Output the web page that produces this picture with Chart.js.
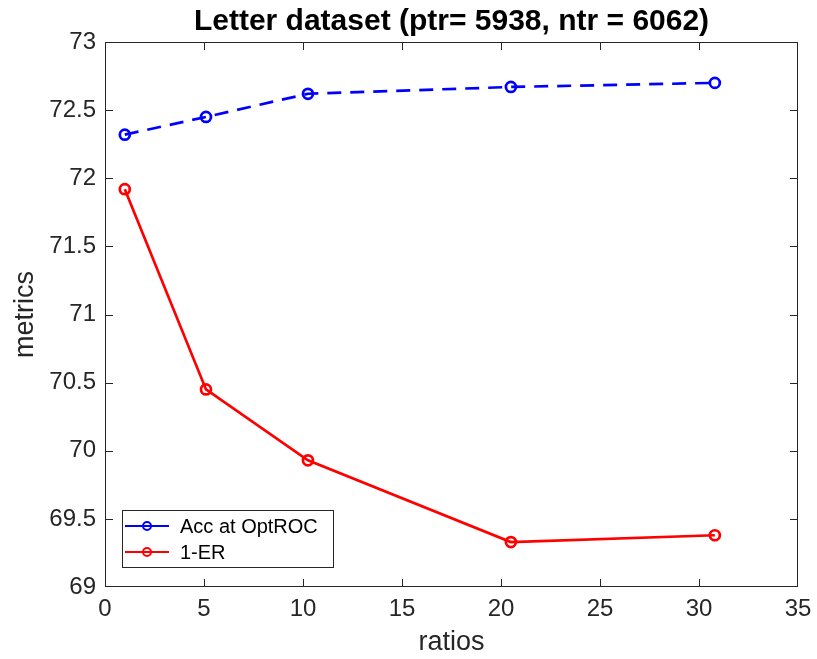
<!DOCTYPE html>
<html>
<head>
<meta charset="utf-8">
<script src="https://cdn.jsdelivr.net/npm/chart.js@4.4.1/dist/chart.umd.min.js"></script>
<style>
  html, body { margin: 0; padding: 0; background: #fff; }
  #wrap { width: 817px; height: 659px; }
</style>
</head>
<body>
<div id="wrap"><canvas id="chart" width="817" height="659"></canvas></div>
<script>
// values
const ratios = [1, 5.1, 10.25, 20.5, 30.8];
const accOptRoc = [72.32, 72.45, 72.62, 72.67, 72.70];
const oneMinusEr = [71.92, 70.45, 69.93, 69.33, 69.38];
const seriesNames = ['Acc at OptROC', '1-ER'];

const axisColor = '#262626';
const fontFamily = '"Liberation Sans", Arial, Helvetica, sans-serif';

// matlab style box, inner ticks and a legend in the lower left corner
const matlabAxes = {
    id: 'matlabAxes',
    afterDraw(chart) {
        const ctx = chart.ctx;
        const a = chart.chartArea;
        const xs = chart.scales.x, ys = chart.scales.y;
        ctx.save();
        ctx.strokeStyle = axisColor;
        ctx.lineWidth = 1;
        ctx.strokeRect(a.left + 0.5, a.top + 0.5, a.right - a.left - 1, a.bottom - a.top - 1);
        const t = 8;
        ctx.beginPath();
        xs.ticks.forEach(tk => {
            const px = Math.min(Math.round(xs.getPixelForValue(tk.value)), a.right - 1) + 0.5;
            ctx.moveTo(px, a.bottom); ctx.lineTo(px, a.bottom - t);
            ctx.moveTo(px, a.top); ctx.lineTo(px, a.top + t);
        });
        ys.ticks.forEach(tk => {
            const py = Math.min(Math.round(ys.getPixelForValue(tk.value)), a.bottom - 1) + 0.5;
            ctx.moveTo(a.left, py); ctx.lineTo(a.left + t, py);
            ctx.moveTo(a.right, py); ctx.lineTo(a.right - t, py);
        });
        ctx.stroke();

        // legend
        const lx = 122, ly = a.bottom - 77, lw = 211, lh = 57;
        ctx.fillStyle = '#fff';
        ctx.fillRect(lx, ly, lw, lh);
        ctx.strokeStyle = axisColor;
        ctx.strokeRect(lx + 0.5, ly + 0.5, lw, lh);
        ctx.font = '20px ' + fontFamily;
        ctx.textBaseline = 'middle';
        chart.data.datasets.forEach((ds, i) => {
            const yy = ly + 16 + i * 26;
            ctx.strokeStyle = ds.borderColor;
            ctx.lineWidth = 2;
            ctx.setLineDash([]);
            ctx.beginPath();
            ctx.moveTo(lx + 3, yy); ctx.lineTo(lx + 47, yy);
            ctx.stroke();
            ctx.beginPath();
            ctx.arc(lx + 25, yy, 4, 0, Math.PI * 2);
            ctx.stroke();
            ctx.fillStyle = '#000';
            ctx.fillText(ds.label, lx + 58, yy + 1);
        });
        ctx.restore();
    }
};

new Chart(document.getElementById('chart'), {
    type: 'line',
    data: {
        datasets: [
            {
                label: seriesNames[0],
                data: ratios.map((r, i) => ({ x: r, y: accOptRoc[i] })),
                borderColor: '#0000ff',
                borderWidth: 2.7,
                borderDash: [14, 9],
                pointRadius: 5,
                pointBorderWidth: 2.7,
                pointBackgroundColor: 'rgba(0,0,0,0)',
                pointBorderColor: '#0000ff',
                tension: 0
            },
            {
                label: seriesNames[1],
                data: ratios.map((r, i) => ({ x: r, y: oneMinusEr[i] })),
                borderColor: '#ff0000',
                borderWidth: 2.7,
                pointRadius: 5,
                pointBorderWidth: 2.7,
                pointBackgroundColor: 'rgba(0,0,0,0)',
                pointBorderColor: '#ff0000',
                tension: 0
            }
        ]
    },
    options: {
        responsive: false,
        animation: false,
        layout: { padding: { left: 0, right: 19, top: 0, bottom: 0 } },
        plugins: {
            legend: { display: false },
            tooltip: { enabled: false },
            title: {
                display: true,
                fullSize: false,
                text: 'Letter dataset (ptr= 5938, ntr = 6062)',
                color: '#000',
                font: { family: fontFamily, size: 30, weight: 'bold' },
                padding: { top: 4, bottom: 2 }
            }
        },
        scales: {
            x: {
                type: 'linear',
                min: 0, max: 35,
                ticks: { stepSize: 5, color: axisColor, padding: 8, maxRotation: 0,
                         font: { family: fontFamily, size: 24 } },
                grid: { display: false, drawTicks: false },
                border: { display: false },
                title: { display: true, text: 'ratios', color: axisColor,
                         font: { family: fontFamily, size: 27 }, padding: { top: 0, bottom: 0 } },
                afterFit(s) { s.height = 72; s.paddingLeft = 0; s.paddingRight = 0; }
            },
            y: {
                min: 69, max: 73,
                ticks: { stepSize: 0.5, color: axisColor, padding: 9,
                         font: { family: fontFamily, size: 24 },
                         callback: v => String(v) },
                grid: { display: false, drawTicks: false },
                border: { display: false },
                title: { display: true, text: 'metrics', color: axisColor,
                         font: { family: fontFamily, size: 27 }, padding: { top: 9, bottom: 0 } },
                afterFit(s) { s.width = 105; s.paddingTop = 0; s.paddingBottom = 0; }
            }
        }
    },
    plugins: [matlabAxes]
});
</script>
</body>
</html>
